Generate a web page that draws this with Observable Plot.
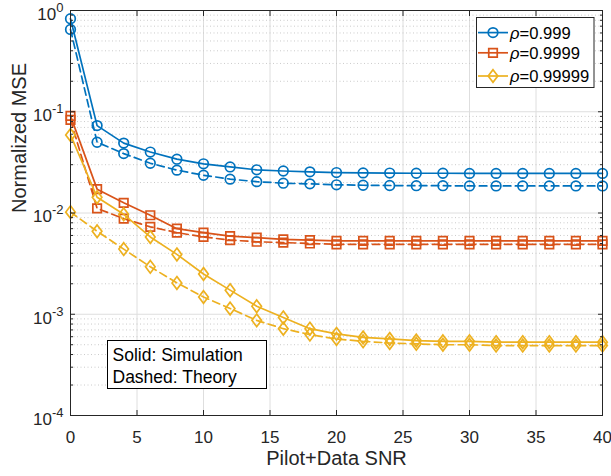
<!DOCTYPE html>
<html><head><meta charset="utf-8">
<script src="https://cdn.jsdelivr.net/npm/d3@7"></script>
<script src="https://cdn.jsdelivr.net/npm/@observablehq/plot@0.6"></script>
<style>body{margin:0;background:#fff;}</style>
</head><body><div id="chart"></div>
<script>
// ---- data ----
const snr = [0,2,4,6,8,10,12,14,16,18,20,22,24,26,28,30,32,34,36,38,40];
const seriesLabels = ["0.999","0.9999","0.99999"];
const sim999   = [0.83,0.073,0.049,0.040,0.034,0.0306,0.0285,0.0267,0.026,0.0255,0.0251,0.0249,0.0248,0.0247,0.0247,0.0246,0.0246,0.0246,0.0246,0.0246,0.0246];
const theo999  = [0.65,0.050,0.0386,0.031,0.0265,0.0236,0.0216,0.0204,0.0197,0.0194,0.019,0.0188,0.0187,0.0186,0.0186,0.0185,0.0185,0.0185,0.0185,0.0185,0.0185];
const sim9999  = [0.091,0.0172,0.0126,0.0095,0.0070,0.0064,0.0059,0.0057,0.0055,0.0054,0.0053,0.0053,0.0053,0.0053,0.0053,0.0053,0.0053,0.0053,0.0053,0.0053,0.0053];
const theo9999 = [0.083,0.0111,0.0088,0.0073,0.0064,0.0058,0.0054,0.0052,0.0051,0.0050,0.0049,0.0049,0.0049,0.0049,0.0049,0.0049,0.0049,0.0049,0.0049,0.0049,0.0049];
const sim99999 = [0.059,0.0143,0.0097,0.0058,0.0039,0.0025,0.00173,0.0012,0.00093,0.00072,0.00064,0.00059,0.00057,0.00055,0.00054,0.00054,0.00053,0.00053,0.00053,0.00053,0.00053];
const theo99999= [0.0102,0.0066,0.0044,0.00294,0.00204,0.00148,0.00114,0.00087,0.00072,0.00063,0.00057,0.00054,0.00052,0.00051,0.0005,0.0005,0.00049,0.00049,0.00049,0.00049,0.00049];
const xTicks = [0,5,10,15,20,25,30,35,40];
const yTicks = [1e-4,1e-3,1e-2,1e-1,1];
const xLabel = "Pilot+Data SNR";
const yLabel = "Normalized MSE";
const noteLines = ["Solid: Simulation","Dashed: Theory"];

// ---- styles ----
const colors = ["#0072BD","#D95319","#EDB120"];
const diamond = {draw(ctx, size){const r=Math.sqrt(size/Math.PI);const w=r*1.0,h=r*1.32;ctx.moveTo(0,-h);ctx.lineTo(w,0);ctx.lineTo(0,h);ctx.lineTo(-w,0);ctx.closePath();}};
const symbols = ["circle","square",diamond];
const d3symbols = [d3.symbolCircle,d3.symbolSquare,diamond];
const R = 4.8, SW = 1.7;
const minorTicks = [];
for (let k=-4;k<0;k++) for (let m=2;m<=9;m++) minorTicks.push(m*Math.pow(10,k));

const sims = [sim999,sim9999,sim99999];
const theos = [theo999,theo9999,theo99999];
const toRows = arr => snr.map((x,i)=>({snr:x, v:arr[i]}));

const dataMarks = [];
for (let s=0;s<3;s++){
  const simRows = toRows(sims[s]), theoRows = toRows(theos[s]);
  dataMarks.push(
    Plot.line(theoRows,{x:"snr",y:"v",stroke:colors[s],strokeWidth:SW,strokeDasharray:"7.5,4.5"}),
    Plot.dot(theoRows,{x:"snr",y:"v",stroke:colors[s],symbol:symbols[s],r:R,fill:"none",strokeWidth:SW}),
    Plot.line(simRows,{x:"snr",y:"v",stroke:colors[s],strokeWidth:SW}),
    Plot.dot(simRows,{x:"snr",y:"v",stroke:colors[s],symbol:symbols[s],r:R,fill:"none",strokeWidth:SW})
  );
}
const ax = "#262626";
const chart = Plot.plot({
  width:611, height:476,
  marginLeft:70, marginRight:9, marginTop:10, marginBottom:61,
  style:{fontFamily:"'Liberation Sans', Arial, sans-serif", background:"#fff", color:ax},
  x:{domain:[0,40]},
  y:{type:"log", domain:[1e-4,1]},
  marks:[
    Plot.gridX(xTicks,{stroke:"#dedede",strokeOpacity:1}),
    Plot.gridY(minorTicks,{stroke:"#cbcbcb",strokeOpacity:1,strokeDasharray:"1,2.5"}),
    Plot.gridY(yTicks,{stroke:"#dedede",strokeOpacity:1}),
    ...dataMarks,
    Plot.frame({stroke:ax,strokeWidth:1}),
    Plot.axisX(xTicks,{anchor:"bottom",tickSize:5,dy:-5,fill:"none",stroke:ax,label:null}),
    Plot.axisX(xTicks,{anchor:"top",tickSize:5,dy:5,fill:"none",stroke:ax,label:null}),
    Plot.axisY(yTicks,{anchor:"left",tickSize:5,dx:5,fill:"none",stroke:ax,label:null}),
    Plot.axisY(yTicks,{anchor:"right",tickSize:5,dx:-5,fill:"none",stroke:ax,label:null}),
    Plot.axisY(minorTicks,{anchor:"left",tickSize:3,dx:3,fill:"none",stroke:ax,label:null}),
    Plot.axisY(minorTicks,{anchor:"right",tickSize:3,dx:-3,fill:"none",stroke:ax,label:null}),
    Plot.axisX(xTicks,{anchor:"bottom",tickSize:0,tickPadding:15,stroke:"none",fill:ax,fontSize:17,label:null,tickFormat:d=>String(d)}),
    Plot.axisY(yTicks,{anchor:"left",tickSize:0,tickPadding:7,stroke:"none",fill:ax,fontSize:17,dy:4,label:null,tickFormat:d=>"10^"+Math.round(Math.log10(d))}),
    Plot.text([xLabel],{frameAnchor:"bottom",dy:49,fontSize:20,fill:ax}),
    Plot.text([yLabel],{frameAnchor:"left",dx:-51,rotate:-90,fontSize:20,fill:ax})
  ]
});
document.getElementById("chart").appendChild(chart);

// superscript exponents on y tick labels
chart.querySelectorAll('g[aria-label="y-axis tick label"] text').forEach(t=>{
  const parts = t.textContent.split("^");
  if (parts.length!==2) return;
  t.textContent = parts[0];
  const ts = document.createElementNS("http://www.w3.org/2000/svg","tspan");
  ts.setAttribute("dy","-8");
  ts.setAttribute("font-size","13");
  ts.textContent = parts[1];
  t.appendChild(ts);
});

// legend (inside the axes, top-right)
const svg = d3.select(chart);
const lg = svg.append("g").attr("font-family","'Liberation Sans', Arial, sans-serif").attr("text-anchor","start");
lg.append("rect").attr("x",476.5).attr("y",17.5).attr("width",117.5).attr("height",70).attr("fill","#fff").attr("stroke",ax).attr("stroke-width",1);
const rowY = [32.6,52.8,76];
seriesLabels.forEach((lab,i)=>{
  const y = rowY[i];
  lg.append("line").attr("x1",478).attr("x2",508).attr("y1",y).attr("y2",y).attr("stroke",colors[i]).attr("stroke-width",SW);
  lg.append("path").attr("d",d3.symbol(d3symbols[i],R*R*Math.PI)()).attr("transform",`translate(493,${y})`).attr("fill","none").attr("stroke",colors[i]).attr("stroke-width",SW);
  const tx = lg.append("text").attr("x",510).attr("y",y+6).attr("font-size",16.6).attr("fill","#000").attr("text-anchor","start");
  tx.append("tspan").attr("font-style","italic").text("ρ");
  tx.append("tspan").text("="+lab);
});

// annotation box
const nb = svg.append("g").attr("font-family","'Liberation Sans', Arial, sans-serif").attr("text-anchor","start");
nb.append("rect").attr("x",107.5).attr("y",340.5).attr("width",159).attr("height",48).attr("fill","#fff").attr("stroke","#000").attr("stroke-width",1);
noteLines.forEach((s,i)=>{
  nb.append("text").attr("x",112.5).attr("y",361+i*21.7).attr("font-size",17.5).attr("fill","#000").attr("text-anchor","start").text(s);
});
</script>
</body></html>
